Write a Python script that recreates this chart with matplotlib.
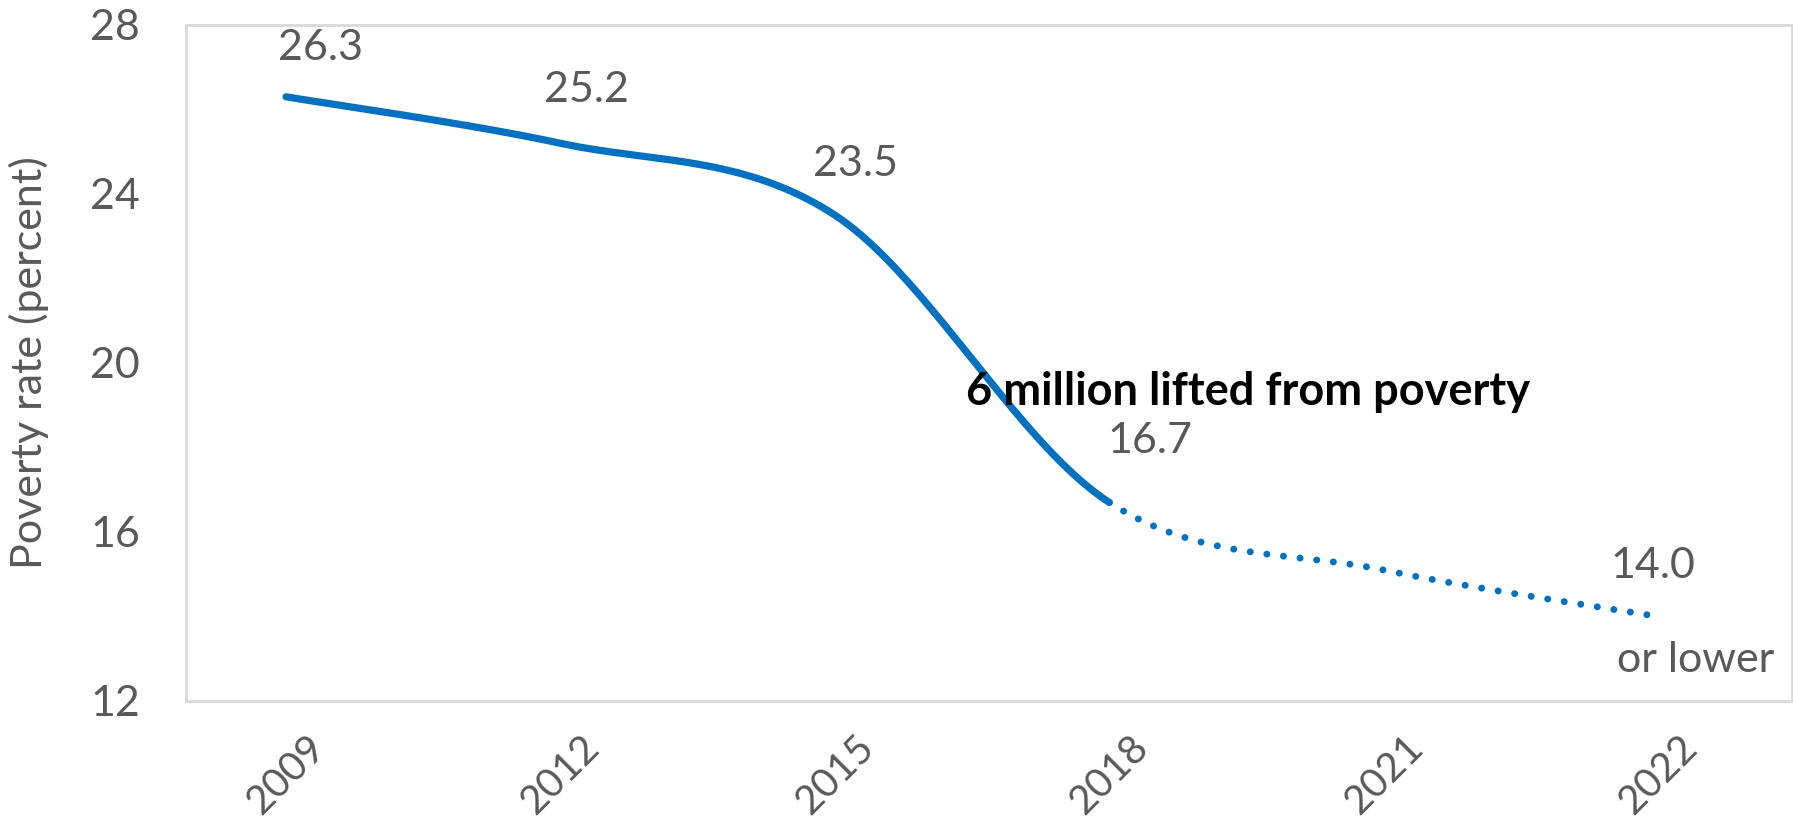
import numpy as np
import matplotlib.pyplot as plt

YEARS = ["2009", "2012", "2015", "2018", "2021", "2022"]
RATES = [26.3, 25.2, 23.5, 16.7, 15.1, 14.0]
SHOW_LABEL = [True, True, True, True, False, True]
LAST_ACTUAL = 3  # 2018: solid up to here, projection afterwards

Y_TICKS = [12, 16, 20, 24, 28]

BLUE = "#0070C0"
GREY = "#595959"
SPINE = "#D9D9D9"
FONT = "Lato"


def _smooth_segments(xs, ys, steps=80):
    """Bezier smoothing through every point, like a spreadsheet 'smoothed line'."""
    pts = np.column_stack([xs, ys]).astype(float)
    n = len(pts)
    segments = []
    for i in range(n - 1):
        p0 = pts[i - 1] if i > 0 else pts[i]
        p1 = pts[i]
        p2 = pts[i + 1]
        p3 = pts[i + 2] if i + 2 < n else pts[i + 1]
        c1 = p1 + (p2 - p0) / 6.0
        c2 = p2 - (p3 - p1) / 6.0
        t = np.linspace(0, 1, steps)[:, None]
        curve = ((1 - t) ** 3) * p1 + 3 * ((1 - t) ** 2) * t * c1 + 3 * (1 - t) * t ** 2 * c2 + t ** 3 * p2
        segments.append(curve)
    return segments


def _main():
    plt.rcParams["font.family"] = [FONT, "DejaVu Sans"]

    fig = plt.figure(figsize=(17.93, 8.38), dpi=100)
    ax = fig.add_axes([0.1037, 0.1635, 0.8957, 0.8067])

    x = np.arange(len(YEARS))
    segments = _smooth_segments(x, RATES)

    solid = np.vstack(segments[:LAST_ACTUAL])
    dotted = np.vstack(segments[LAST_ACTUAL:])
    ax.plot(solid[:, 0], solid[:, 1], color=BLUE, lw=5.2, solid_capstyle="round")
    ax.plot(dotted[:, 0], dotted[:, 1], color=BLUE, lw=5.0,
            linestyle=(0, (0.01, 2.4)), dash_capstyle="round")

    # value labels above each point (offsets in points)
    offsets = [(25, 35), (19, 38), (15, 37), (29, 44), (0, 0), (-4, 36)]
    for xi, value, show, off in zip(x, RATES, SHOW_LABEL, offsets):
        if not show:
            continue
        ax.annotate(f"{value:.1f}", (xi, value), xytext=off, textcoords="offset points",
                    ha="center", va="center", fontsize=31, color=GREY)

    ax.annotate("or lower", (x[-1], RATES[-1]), xytext=(27, -31), textcoords="offset points",
                ha="center", va="center", fontsize=31, color=GREY)

    ax.text(0.486, 0.457, "6 million lifted from poverty", transform=ax.transAxes,
            ha="left", va="center", fontsize=32.5, fontweight="bold", color="black")

    ax.set_xlim(-0.365, 5.488)
    ax.set_ylim(12, 28)
    ax.set_yticks(Y_TICKS)
    ax.set_xticks(x)
    ax.set_xticklabels(YEARS, rotation=45, ha="center", va="top")
    ax.tick_params(axis="both", length=0, labelsize=31, labelcolor=GREY)
    ax.tick_params(axis="x", labelsize=29, pad=20)
    ax.tick_params(axis="y", pad=33)

    ax.set_ylabel("Poverty rate (percent)", fontsize=31, color=GREY, va="center")
    ax.yaxis.set_label_coords(-0.098, 0.5)

    for side in ["left", "right", "top", "bottom"]:
        ax.spines[side].set_color(SPINE)
        ax.spines[side].set_linewidth(2)

    fig.savefig("out.png", dpi=100, facecolor="white")
    plt.close(fig)


if __name__ == "__main__":
    _main()
